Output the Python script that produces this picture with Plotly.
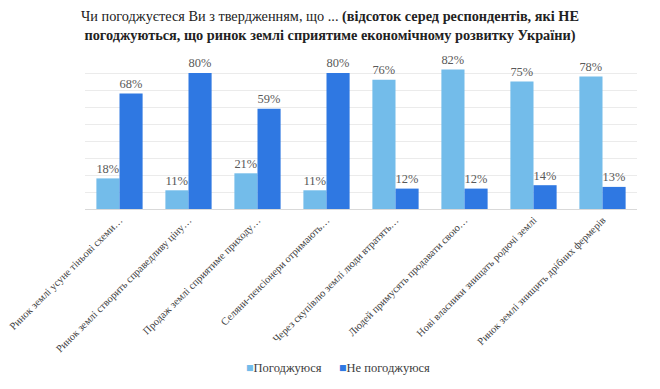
import plotly.graph_objects as go

categories = [
    "Ринок землі усуне тіньові схеми…",
    "Ринок землі створить справедливу ціну…",
    "Продаж землі сприятиме приходу…",
    "Селяни-пенсіонери отримають…",
    "Через скупівлю землі люди втратять…",
    "Людей примусять продавати свою…",
    "Нові власники знищать родючі землі",
    "Ринок землі знищить дрібних фермерів",
]
agree = [18, 11, 21, 11, 76, 82, 75, 78]
disagree = [68, 80, 59, 80, 12, 12, 14, 13]
series_names = ["Погоджуюся", "Не погоджуюся"]
colors = ["#73bcea", "#2f78e2"]

font_family = "Liberation Serif"

fig = go.Figure()
for name, vals, col in zip(series_names, [agree, disagree], colors):
    fig.add_trace(go.Bar(
        x=categories, y=vals, name=name,
        marker=dict(color=col, line=dict(width=0)),
        text=[f"{v}%" for v in vals], textposition="outside",
        textfont=dict(family=font_family, size=14, color="#595959"),
        cliponaxis=False, showlegend=False,
    ))

title_text = ("Чи погоджуєтеся Ви з твердженням, що ... "
              "<b>(відсоток серед респондентів, які НЕ<br>"
              "погоджуються, що ринок землі сприятиме економічному розвитку України)</b>")

L, T, B = 85, 56, 209
PW, PH = 552, B - T

fig.update_layout(
    width=660, height=389,
    margin=dict(l=L, r=660 - L - PW, t=T, b=389 - B),
    paper_bgcolor="white", plot_bgcolor="white",
    barmode="group", bargap=0.33, bargroupgap=0,
    font=dict(family=font_family),
    xaxis=dict(
        tickangle=-45, automargin=False,
        tickfont=dict(family=font_family, size=10.5, color="#404040"),
        showline=True, linecolor="#d9d9d9", linewidth=1,
        ticks="",
    ),
    yaxis=dict(
        range=[0, 90], dtick=10, showticklabels=False, automargin=False,
        showgrid=True, gridcolor="#ebebeb", gridwidth=1,
        zeroline=False,
    ),
    annotations=[
        dict(text=title_text, xref="paper", yref="paper",
             x=(330 - L) / PW, y=1 + (T - 6) / PH,
             xanchor="center", yanchor="top", showarrow=False,
             font=dict(family=font_family, size=14.3, color="#222222")),
        dict(text=f"<span style='color:{colors[0]}'>■</span>{series_names[0]}",
             xref="paper", yref="paper", x=(244 - L) / PW, y=-(368 - B) / PH,
             xanchor="left", yanchor="middle", showarrow=False,
             font=dict(family=font_family, size=12.5, color="#404040")),
        dict(text=f"<span style='color:{colors[1]}'>■</span>{series_names[1]}",
             xref="paper", yref="paper", x=(337 - L) / PW, y=-(368 - B) / PH,
             xanchor="left", yanchor="middle", showarrow=False,
             font=dict(family=font_family, size=12.5, color="#404040")),
    ],
)

fig.write_html("out.html", config={"displayModeBar": False},
               post_script="document.body.style.margin='0';document.body.style.padding='0';")
